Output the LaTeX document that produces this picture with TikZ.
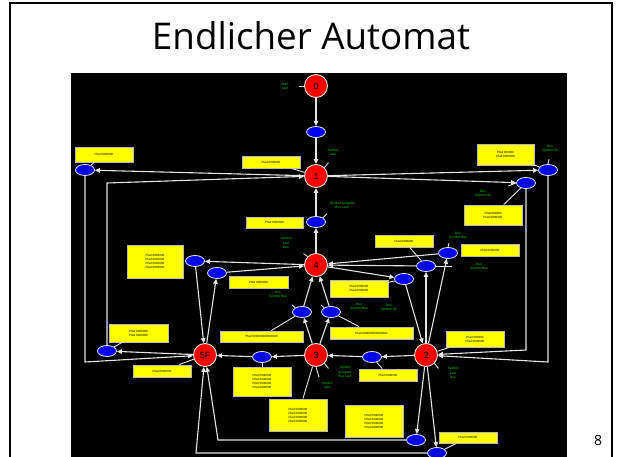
\documentclass[tikz,border=0pt]{standalone}
\usepackage{fontspec}
\usepackage{graphicx}
\setmainfont{Liberation Sans}
\newfontfamily\titlefont{Open Sans}
\usetikzlibrary{shapes.geometric,arrows.meta}

\definecolor{wirecol}{HTML}{E4E4E4}
\definecolor{boxedge}{HTML}{B8B8B8}
\definecolor{statered}{HTML}{FF0000}
\definecolor{tokblue}{HTML}{0000FF}
\definecolor{ylw}{HTML}{FFFF00}
\definecolor{grn}{HTML}{00D000}

\tikzset{
  state/.style={circle, fill=statered, draw=wirecol, line width=0.9pt,
    minimum size=23pt, inner sep=0pt, font=\fontsize{9}{9}\selectfont},
  tok/.style={ellipse, fill=tokblue, draw=wirecol, line width=0.8pt,
    minimum width=19pt, minimum height=11pt, inner sep=0pt,
    font=\fontsize{3.5}{4}\selectfont, text=black!85},
  ybox/.style={rectangle, fill=ylw, draw=boxedge, line width=0.9pt,
    inner sep=0pt, minimum width=58pt, align=center,
    font=\fontsize{3}{4}\selectfont},
  glab/.style={text=grn, align=center, inner sep=0pt,
    font=\fontsize{3.3}{4.2}\selectfont},
  link/.style={draw=wirecol, line width=1.1pt,
    -{Triangle[length=5pt,width=4.5pt]}},
  tick/.style={draw=wirecol, line width=0.9pt},
}

\begin{document}
\begin{tikzpicture}[x=1pt,y=-1pt]
\useasboundingbox (0,0) rectangle (623,457);
\fill[white] (0,0) rectangle (623,457);

% slide frame, title and page number
\draw[line width=2pt] (10,460) -- (10,3) -- (612,3) -- (612,460);
\node[anchor=base, inner sep=0pt] (title) at (311,50)
  {\resizebox{318pt}{28pt}{\titlefont Endlicher Automat}};
\node[font=\titlefont\fontsize{14}{14}\selectfont] (pageno) at (598,440) {8};

% automaton canvas
\fill[black] (71,73) rectangle (567,460);

% states
\node[state] (s0) at (316,86)  {0};
\node[state] (s1) at (316,176) {1};
\node[state] (s4) at (316,265) {4};
\node[state] (s3) at (316,355) {3};
\node[state] (s2) at (426,355) {2};
\node[state] (s5) at (205,355) {5F};

% transition tokens
\node[tok] (b01)  at (316,132) {1};
\node[tok] (bl1)  at (85,170)  {1.1};
\node[tok] (bl2)  at (107,351) {5.1};
\node[tok] (br1)  at (548,170) {1.3};
\node[tok] (br2)  at (526,183) {1.2};
\node[tok] (b14)  at (316,222) {4.1};
\node[tok] (b4a)  at (195,261) {4.2};
\node[tok] (b4b)  at (217,273) {5.2};
\node[tok] (b43a) at (302,312) {3.1};
\node[tok] (b43b) at (331,312) {3.2};
\node[tok] (b4c)  at (448,253) {2.1};
\node[tok] (b4d)  at (426,266) {2.2};
\node[tok] (b4e)  at (404,279) {4.3};
\node[tok] (b35)  at (262,357) {3.3};
\node[tok] (b23)  at (372,357) {2.3};
\node[tok] (b2a)  at (416,440) {2.4};
\node[tok] (b2b)  at (437,453) {2.5};

% path notes
\node[ybox, minimum height=15pt] (y1) at (104,154.5) {Pfad 0000000};
\node[ybox, minimum height=12pt] (y2) at (271,162) {Pfad 0000000};
\node[ybox, minimum height=21pt, minimum width=57pt] (y3) at (505.5,154.5) {Pfad 000000\\Pfad 0000000};
\node[ybox, minimum height=20pt] (y4) at (493,215) {Pfad 000000\\Pfad 0000000};
\node[ybox, minimum height=12pt] (y5) at (404,241) {Pfad 0000000};
\node[ybox, minimum height=12pt] (y6) at (490,250) {Pfad 0000000};
\node[ybox, minimum height=17pt] (y7) at (359,288.5) {Pfad 0000000\\Pfad 0000000};
\node[ybox, minimum height=11pt, minimum width=57pt] (y8) at (274.5,222.5) {Pfad 0000000};
\node[ybox, minimum height=33pt, minimum width=56pt] (y9) at (155,261.5) {Pfad 0000000\\Pfad 0000000\\Pfad 0000000\\Pfad 0000000};
\node[ybox, minimum height=12pt, minimum width=59pt] (y10) at (258.5,282) {Pfad 0000000};
\node[ybox, minimum height=18pt, minimum width=59pt] (y11) at (138.5,333) {Pfad 0000000\\Pfad 0000000};
\node[ybox, minimum height=12pt] (y12) at (162,371) {Pfad 0000000};
\node[ybox, minimum height=11pt, minimum width=83pt] (y13) at (261.5,336.5) {Pfad 000000000000000};
\node[ybox, minimum height=29pt] (y14) at (262,381.5) {Pfad 0000000\\Pfad 0000000\\Pfad 0000000\\Pfad 0000000};
\node[ybox, minimum height=32pt] (y15) at (298,415) {Pfad 0000000\\Pfad 0000000\\Pfad 0000000\\Pfad 0000000};
\node[ybox, minimum height=12pt, minimum width=83pt] (y16) at (371.5,333) {Pfad 000000000000000};
\node[ybox, minimum height=16pt] (y17) at (475,339) {Pfad 000000\\Pfad 0000000};
\node[ybox, minimum height=12pt] (y18) at (388,375) {Pfad 0000000};
\node[ybox, minimum height=32pt] (y19) at (374,421) {Pfad 0000000\\Pfad 0000000\\Pfad 0000000\\Pfad 0000000};
\node[ybox, minimum height=11pt] (y20) at (468,437.5) {Pfad 0000000};

% symbol annotations
\node[glab] (g1)  at (285,86)  {Start\\Lauf};
\node[glab] (g2)  at (333,152) {Symbol\\Lauf};
\node[glab] (g3)  at (550,149) {Bus\\Symbol 3in};
\node[glab] (g4)  at (483,194) {Bus\\Symbol 4in};
\node[glab] (g5)  at (342,205) {Symbol Ausgabe\\Bus Lauf};
\node[glab] (g6)  at (286,243) {Symbol\\Lauf\\Bus};
\node[glab] (g7)  at (278,295) {Bus\\Symbol Bus};
\node[glab] (g8)  at (359,307) {Bus\\Symbol Bus};
\node[glab] (g9)  at (389,308) {Bus\\Symbol 3in};
\node[glab] (g10) at (458,236) {Bus\\Symbol Bus};
\node[glab] (g11) at (479,267) {Bus\\Symbol Bus};
\node[glab] (g12) at (345,372) {Symbol\\Ausgabe\\Bus Lauf};
\node[glab] (g13) at (327,385) {Symbol\\Lauf};
\node[glab] (g14) at (453,373) {Symbol\\Lauf\\Bus};

% bend points of the routed transitions
\coordinate (c1) at (107,183);
\coordinate (c2) at (85,362);
\coordinate (c3) at (548,362);
\coordinate (c4) at (526,350);
\coordinate (c5) at (218,440);
\coordinate (c6) at (196,453);

% transitions
\draw[link] (s0) -- (b01);
\draw[link] (b01) -- (s1);
\draw[link] (s1) -- (bl1);
\draw[link] (bl2) -- (c1) -- (s1);
\draw[link] (bl1) -- (c2) -- (s5);
\draw[link] (s5) -- (bl2);
\draw[link] (s1) -- (br1);
\draw[link] (s1) -- (br2);
\draw[link] (br1) -- (c3) -- (s2);
\draw[link] (br2) -- (c4) -- (s2);
\draw[link] (s4) -- (b14);
\draw[link] (b14) -- (s1);
\draw[link] (s4) -- (b4a);
\draw[link] (b4b) -- (s4);
\draw[link] (b4a) -- (s5);
\draw[link] (s5) -- (b4b);
\draw[link] (b43a) -- (s4);
\draw[link] (b43b) -- (s4);
\draw[link] (s3) -- (b43a);
\draw[link] (s3) -- (b43b);
\draw[link] (b4c) -- (s4);
\draw[link] (b4d) -- (s4);
\draw[link] (s4) -- (b4e);
\draw[link] (b4e) -- (s2);
\draw[link] (s2) -- (b4d);
\draw[link] (s2) -- (b4c);
\draw[link] (s2) -- (b23);
\draw[link] (b23) -- (s3);
\draw[link] (s3) -- (b35);
\draw[link] (b35) -- (s5);
\draw[link] (s2) -- (b2a);
\draw[link] (s2) -- (b2b);
\draw[link] (b2a) -- (c5) -- (s5);
\draw[link] (b2b) -- (c6) -- (s5);

% note leaders
\draw[tick] (y1) -- (bl1);
\draw[tick] (y2) -- (s1);
\draw[tick] (y3) -- (br1);
\draw[tick] (y4) -- (br2);
\draw[tick] (y5) -- (b4d);
\draw[tick] (y7) -- (b4e);
\draw[tick] (y11) -- (bl2);
\draw[tick] (y12) -- (s5);
\draw[tick] (y13) -- (b43a);
\draw[tick] (y14) -- (b35);
\draw[tick] (y15) -- (s3);
\draw[tick] (y16) -- (b43b);
\draw[tick] (y17) -- (s2);
\draw[tick] (y18) -- (b23);
\draw[tick] (y20) -- (b2b);

% annotation ticks
\draw[tick] (s0.west) -- ++(-5,0);
\draw[tick] (s1.north east) -- ++(4,-5);
\draw[tick] (br1.north) -- ++(1,-5);
\draw[tick] (br2.west) -- ++(-8,3);
\draw[tick] (b14.north east) -- ++(4,-4);
\draw[tick] (s4.north west) -- ++(-4,-3);
\draw[tick] (b43a.north west) -- ++(-3,-3);
\draw[tick] (b43b.north west) -- ++(-3,-3);
\draw[tick] (b4c.north) -- ++(1,-4);
\draw[tick] (b4d.east) -- ++(16,0);
\draw[tick] (s3.south) -- ++(3,10);
\draw[tick] (s3.south east) -- ++(4,5);
\draw[tick] (s2.south east) -- ++(4,5);
\end{tikzpicture}
\end{document}
